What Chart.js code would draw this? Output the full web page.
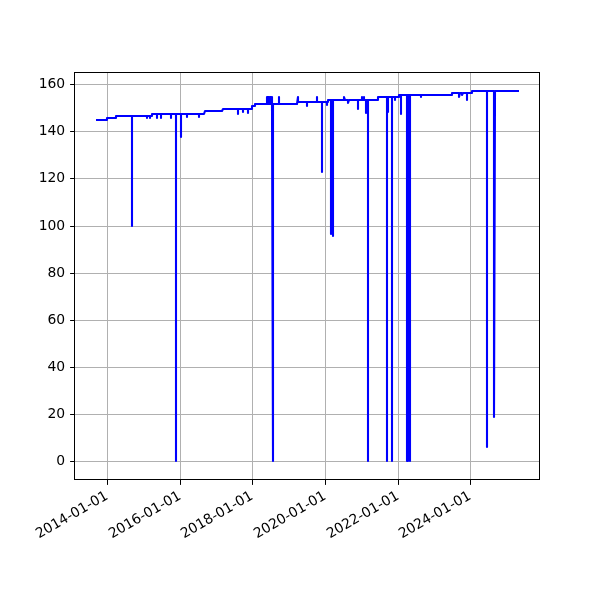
<!DOCTYPE html>
<html>
<head>
<meta charset="utf-8">
<script src="https://cdn.jsdelivr.net/npm/chart.js@4.4.1/dist/chart.umd.min.js"></script>
<style>
  html, body { margin: 0; padding: 0; background: #fff; }
  canvas { display: block; }
</style>
</head>
<body>
<canvas id="seriesChart" width="600" height="600"></canvas>
<script>
// samples, one date per value
const dates = [
  '2013-09-15', '2014-01-02', '2014-01-03', '2014-04-05', '2014-04-06',
  '2014-09-10', '2014-09-11', '2014-09-12',
  '2015-02-08', '2015-02-09', '2015-02-10', '2015-03-13', '2015-03-14', '2015-03-15',
  '2015-03-30', '2015-03-31', '2015-05-19', '2015-05-20', '2015-05-21',
  '2015-07-01', '2015-07-02', '2015-07-03', '2015-10-10', '2015-10-11', '2015-10-12',
  '2015-11-22', '2015-11-23', '2015-11-24',
  '2016-01-11', '2016-01-12', '2016-01-13', '2016-03-15', '2016-03-16', '2016-03-17',
  '2016-07-10', '2016-07-11', '2016-07-12', '2016-09-08', '2016-09-09',
  '2017-03-08', '2017-03-09', '2017-08-09', '2017-08-10', '2017-08-11',
  '2017-10-01', '2017-10-02', '2017-10-03', '2017-11-21', '2017-11-22', '2017-11-23',
  '2017-12-28', '2017-12-29',
  '2018-01-30', '2018-01-31', '2018-05-27', '2018-05-28', '2018-06-04', '2018-06-05',
  '2018-06-12', '2018-06-13', '2018-06-20', '2018-06-21', '2018-06-28', '2018-06-29',
  '2018-07-06', '2018-07-07', '2018-07-14', '2018-07-15', '2018-07-20', '2018-07-21',
  '2018-07-23', '2018-07-24', '2018-07-25', '2018-09-28', '2018-09-29', '2018-09-30',
  '2019-03-31', '2019-04-01', '2019-04-02', '2019-07-03', '2019-07-04', '2019-07-05',
  '2019-10-11', '2019-10-12', '2019-10-13', '2019-11-29', '2019-11-30', '2019-12-01',
  '2020-01-20', '2020-01-21', '2020-01-22', '2020-02-05', '2020-02-06',
  '2020-03-03', '2020-03-04', '2020-03-05', '2020-03-23', '2020-03-24', '2020-03-25',
  '2020-07-15', '2020-07-16', '2020-07-17', '2020-08-24', '2020-08-25', '2020-08-26',
  '2020-11-26', '2020-11-27', '2020-11-28',
  '2021-01-05', '2021-01-06', '2021-01-07', '2021-01-31', '2021-02-01', '2021-02-02',
  '2021-02-14', '2021-02-15', '2021-02-16', '2021-03-12', '2021-03-13', '2021-03-14',
  '2021-06-15', '2021-06-16', '2021-09-13', '2021-09-14', '2021-09-15',
  '2021-09-29', '2021-09-30', '2021-10-01', '2021-11-02', '2021-11-03', '2021-11-04',
  '2021-12-06', '2021-12-07', '2021-12-08',
  '2022-01-15', '2022-01-16', '2022-02-04', '2022-02-05', '2022-02-06',
  '2022-04-02', '2022-04-03', '2022-04-04', '2022-04-17', '2022-04-18', '2022-04-19',
  '2022-05-03', '2022-05-04', '2022-05-05', '2022-08-24', '2022-08-25', '2022-08-26',
  '2023-06-28', '2023-06-29', '2023-09-14', '2023-09-15', '2023-09-16',
  '2023-10-14', '2023-10-15', '2023-10-16', '2023-11-29', '2023-11-30', '2023-12-01',
  '2024-01-15', '2024-01-16', '2024-06-19', '2024-06-20', '2024-06-21',
  '2024-08-31', '2024-09-01', '2024-09-02', '2025-05-04'
];
const values = [
  144.7, 144.7, 145.4, 145.4, 146.4,
  146.4, 100, 146.4,
  146.4, 145.5, 146.4, 146.4, 145.5, 146.4,
  146.4, 147.4, 147.4, 145.5, 147.4,
  147.4, 145.5, 147.4, 147.4, 145.5, 147.4,
  147.4, 0, 147.4,
  147.4, 137.6, 147.4, 147.4, 145.9, 147.4,
  147.4, 146.1, 147.4, 147.4, 148.6,
  148.6, 149.4, 149.4, 147.2, 149.4,
  149.4, 148.2, 149.4, 149.4, 147.8, 149.4,
  149.4, 150.7,
  150.7, 151.5, 151.5, 154.4, 154.4, 151.5,
  151.5, 154.4, 154.4, 151.5, 151.5, 154.4,
  154.4, 151.5, 151.5, 154.4, 154.4, 151.5,
  151.5, 0, 151.5, 151.5, 154.6, 151.5,
  151.5, 154.4, 152.4, 152.4, 150.7, 152.4,
  152.4, 154.4, 152.4, 152.4, 122.6, 152.4,
  152.4, 151.1, 152.4, 152.4, 153.2,
  153.2, 96.5, 153.2, 153.2, 95.5, 153.2,
  153.2, 154.6, 153.2, 153.2, 151.8, 153.2,
  153.2, 149.3, 153.2,
  153.2, 154.6, 153.2, 153.2, 154.6, 153.2,
  153.2, 147.6, 153.2, 153.2, 0, 153.2,
  153.2, 154.3, 154.3, 0, 154.3,
  154.3, 148.3, 154.3, 154.3, 0, 154.3,
  154.3, 153.2, 154.3,
  154.3, 155.4, 155.4, 147.3, 155.4,
  155.4, 0, 155.4, 155.4, 0, 155.4,
  155.4, 0, 155.4, 155.4, 154.4, 155.4,
  155.4, 156.3, 156.3, 154.5, 156.3,
  156.3, 155.2, 156.3, 156.3, 153.2, 156.3,
  156.3, 157.2, 157.2, 6.1, 157.2,
  157.2, 19, 157.2, 157.2
];
const xTickLabels = ['2014-01-01', '2016-01-01', '2018-01-01', '2020-01-01', '2022-01-01', '2024-01-01'];
const yTickValues = [0, 20, 40, 60, 80, 100, 120, 140, 160];

const points = dates.map((d, i) => ({ x: Date.parse(d), y: values[i] }));

// matplotlib style 5% margins
const xFirst = points[0].x, xLast = points[points.length - 1].x;
const xPad = (xLast - xFirst) * 0.05;
const yMin = Math.min(...values), yMax = Math.max(...values);
const yPad = (yMax - yMin) * 0.05;

const frame = {
  id: 'frame',
  afterDraw(chart) {
    const { ctx, chartArea: a } = chart;
    ctx.save();
    ctx.strokeStyle = '#000';
    ctx.lineWidth = 1;
    ctx.strokeRect(Math.round(a.left) - 0.5, Math.round(a.top) + 0.5,
      Math.round(a.right - a.left), Math.round(a.bottom - a.top) - 1);
    ctx.restore();
  }
};

Chart.defaults.font.family = "'DejaVu Sans', sans-serif";
Chart.defaults.font.size = 13.9;
Chart.defaults.color = '#000';

new Chart(document.getElementById('seriesChart'), {
  type: 'line',
  data: {
    datasets: [{
      data: points,
      borderColor: '#0000ff',
      borderWidth: 2.1,
      borderJoinStyle: 'round',
      // solid "dash" so every segment is drawn (no per-pixel merging)
      borderDash: [100000, 0],
      pointRadius: 0,
      tension: 0,
      fill: false
    }]
  },
  options: {
    responsive: false,
    animation: false,
    devicePixelRatio: 1,
    layout: { padding: { top: 72, right: 60, left: 0, bottom: 0 } },
    plugins: {
      legend: { display: false },
      tooltip: { enabled: false }
    },
    scales: {
      x: {
        type: 'linear',
        min: xFirst - xPad,
        max: xLast + xPad,
        alignToPixels: true,
        afterFit: scale => { scale.height = 120; },
        afterBuildTicks: scale => {
          scale.ticks = xTickLabels.map(t => ({ value: Date.parse(t) }));
        },
        grid: { color: '#b0b0b0', lineWidth: 1, tickColor: '#000', tickLength: 4.9 },
        border: { display: false },
        ticks: {
          minRotation: 30,
          maxRotation: 30,
          padding: 3,
          callback: value => new Date(value).toISOString().slice(0, 10)
        }
      },
      y: {
        min: yMin - yPad,
        max: yMax + yPad,
        alignToPixels: true,
        afterFit: scale => { scale.width = 75; },
        afterBuildTicks: scale => {
          scale.ticks = yTickValues.map(v => ({ value: v }));
        },
        grid: { color: '#b0b0b0', lineWidth: 1, tickColor: '#000', tickLength: 4.9 },
        border: { display: false },
        ticks: { padding: 4.9 }
      }
    }
  },
  plugins: [frame]
});
</script>
</body>
</html>
